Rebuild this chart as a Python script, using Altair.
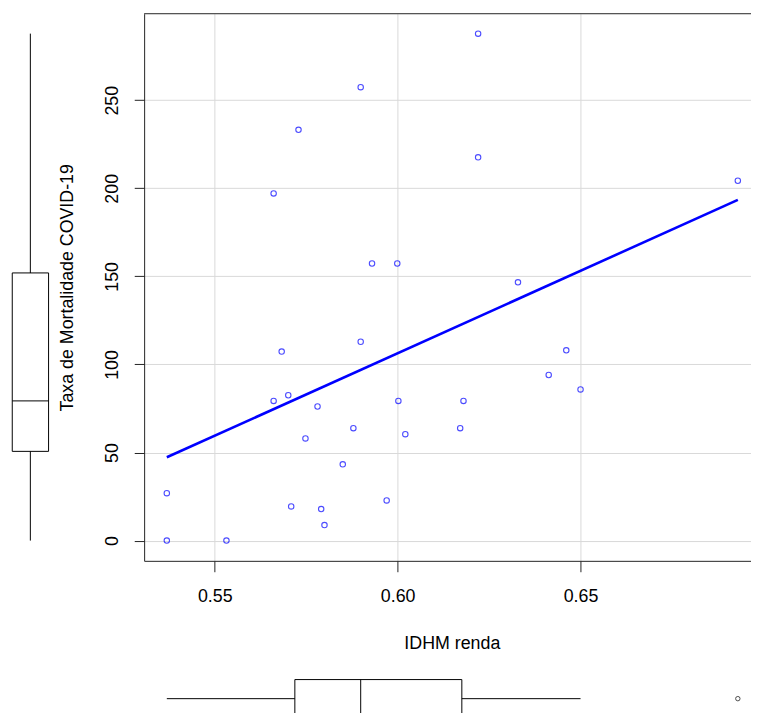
import altair as alt
import pandas as pd

# ---- data ----
idhm = [0.6220, 0.5899, 0.5729, 0.6220, 0.5661, 0.6930, 0.5930, 0.5999, 0.6329,
        0.5899, 0.5683, 0.6461, 0.6413, 0.6500, 0.5661, 0.5701, 0.5781, 0.6002, 0.6180,
        0.5879, 0.6021, 0.6171, 0.5748, 0.5850, 0.5369, 0.5709, 0.5791, 0.5970, 0.5800,
        0.5369, 0.5532]
mort = [287.8, 257.4, 233.2, 217.6, 197.1, 204.3, 157.3, 157.3, 146.6,
        112.9, 107.3, 108.0, 94.0, 85.8, 79.3, 82.5, 76.1, 79.3, 79.3,
        63.8, 60.4, 63.8, 58.0, 43.3, 26.9, 19.4, 17.9, 22.8, 8.8,
        0.0, 0.0]
x_ticks = [0.55, 0.60, 0.65]
y_ticks = [0, 50, 100, 150, 200, 250]
x_title = "IDHM renda"
y_title = "Taxa de Mortalidade COVID-19"

df = pd.DataFrame({"idhm": idhm, "mort": mort})

FONT = "Liberation Sans"
W = 613.4
H = 553
FRAME = "#222222"
GRID = "#D9D9D9"
BLUE = "#0000FF"

x_scale = alt.Scale(domain=[0.5307, 0.6966], nice=False, zero=False)
y_scale = alt.Scale(domain=[-11.5, 299.1], nice=False, zero=False)

x_axis = alt.Axis(values=x_ticks, format=".2f", labelFont=FONT, labelFontSize=18,
                  labelColor="black", tickSize=11, tickColor=FRAME, domainColor=FRAME,
                  labelPadding=16, grid=True, gridColor=GRID, labelFlush=False,
                  labelOverlap=False, titleFont=FONT, titleFontSize=18,
                  titleFontWeight="normal", titleColor="black", titleX=311,
                  titleY=88.7, titleBaseline="alphabetic", titleAlign="center")
y_axis = alt.Axis(values=y_ticks, labelAngle=270, labelAlign="center",
                  labelBaseline="alphabetic", labelFont=FONT, labelFontSize=18,
                  labelColor="black", tickSize=10, tickColor=FRAME, domainColor=FRAME,
                  labelPadding=16.5, grid=True, gridColor=GRID, labelFlush=False,
                  labelOverlap=False, titleFont=FONT, titleFontSize=18,
                  titleFontWeight="normal", titleColor="black", titleAngle=270,
                  titleX=-72.8, titleY=276.5, titleBaseline="alphabetic",
                  titleAlign="center")


def X(field):
    return alt.X(field, type="quantitative", scale=x_scale, axis=x_axis, title=x_title)


def Y(field):
    return alt.Y(field, type="quantitative", scale=y_scale, axis=y_axis, title=y_title)


base = alt.Chart(df)

points = base.mark_point(shape="circle", filled=False, color=BLUE, size=30,
                         strokeWidth=1.1).encode(x=X("idhm"), y=Y("mort"))

reg = base.transform_regression("idhm", "mort").mark_line(
    color=BLUE, strokeWidth=2.6).encode(x=X("idhm"), y=Y("mort"))

top_border = base.transform_aggregate(n="count()").mark_rule(
    color=FRAME, strokeWidth=1).encode(x=alt.value(0), x2=alt.value(W), y=alt.value(0))

# ---- left marginal boxplot (mortality) ----
by = base.transform_joinaggregate(
    q1="q1(mort)", q3="q3(mort)", med="median(mort)"
).transform_calculate(
    lo="datum.q1 - 1.5*(datum.q3 - datum.q1)",
    hi="datum.q3 + 1.5*(datum.q3 - datum.q1)")

BXC, BX1, BX2 = -115.0, -133.3, -96.6
y_whisk = by.transform_filter("datum.mort >= datum.lo && datum.mort <= datum.hi"
    ).transform_aggregate(wmin="min(mort)", wmax="max(mort)").mark_rule(
    color="black", strokeWidth=1).encode(y=Y("wmin"), y2="wmax:Q", x=alt.value(BXC))
y_stats = by.transform_aggregate(q1="min(q1)", q3="min(q3)", med="min(med)")
y_box = y_stats.mark_rect(fill="white", stroke="black", strokeWidth=1).encode(
    y=Y("q1"), y2="q3:Q", x=alt.value(BX1), x2=alt.value(BX2))
y_med = y_stats.mark_rule(color="black", strokeWidth=1).encode(
    y=Y("med"), x=alt.value(BX1), x2=alt.value(BX2))
y_out = by.transform_filter("datum.mort < datum.lo || datum.mort > datum.hi").mark_point(
    shape="circle", filled=False, color="black", size=20, strokeWidth=1).encode(
    y=Y("mort"), x=alt.value(BXC))

# ---- bottom marginal boxplot (IDHM renda) ----
bx = base.transform_joinaggregate(
    q1="q1(idhm)", q3="q3(idhm)", med="median(idhm)"
).transform_calculate(
    lo="datum.q1 - 1.5*(datum.q3 - datum.q1)",
    hi="datum.q3 + 1.5*(datum.q3 - datum.q1)")

BYC, BY1, BY2 = 692.3, 673.0, 711.0
x_whisk = bx.transform_filter("datum.idhm >= datum.lo && datum.idhm <= datum.hi"
    ).transform_aggregate(wmin="min(idhm)", wmax="max(idhm)").mark_rule(
    color="black", strokeWidth=1).encode(x=X("wmin"), x2="wmax:Q", y=alt.value(BYC))
x_stats = bx.transform_aggregate(q1="min(q1)", q3="min(q3)", med="min(med)")
x_box = x_stats.mark_rect(fill="white", stroke="black", strokeWidth=1).encode(
    x=X("q1"), x2="q3:Q", y=alt.value(BY1), y2=alt.value(BY2))
x_med = x_stats.mark_rule(color="black", strokeWidth=1).encode(
    x=X("med"), y=alt.value(BY1), y2=alt.value(BY2))
x_out = bx.transform_filter("datum.idhm < datum.lo || datum.idhm > datum.hi").mark_point(
    shape="circle", filled=False, color="black", size=20, strokeWidth=1).encode(
    x=X("idhm"), y=alt.value(BYC))

chart = alt.layer(
    points, reg, top_border,
    y_whisk, y_box, y_med, y_out,
    x_whisk, x_box, x_med, x_out,
).properties(
    width=W, height=H,
    autosize=alt.AutoSizeParams(type="none"),
    padding={"left": 137.6, "top": 2, "right": 0, "bottom": 150},
    background="white",
).configure_view(stroke="transparent")

chart.save("out.html", embed_options={"renderer": "svg", "actions": False})
